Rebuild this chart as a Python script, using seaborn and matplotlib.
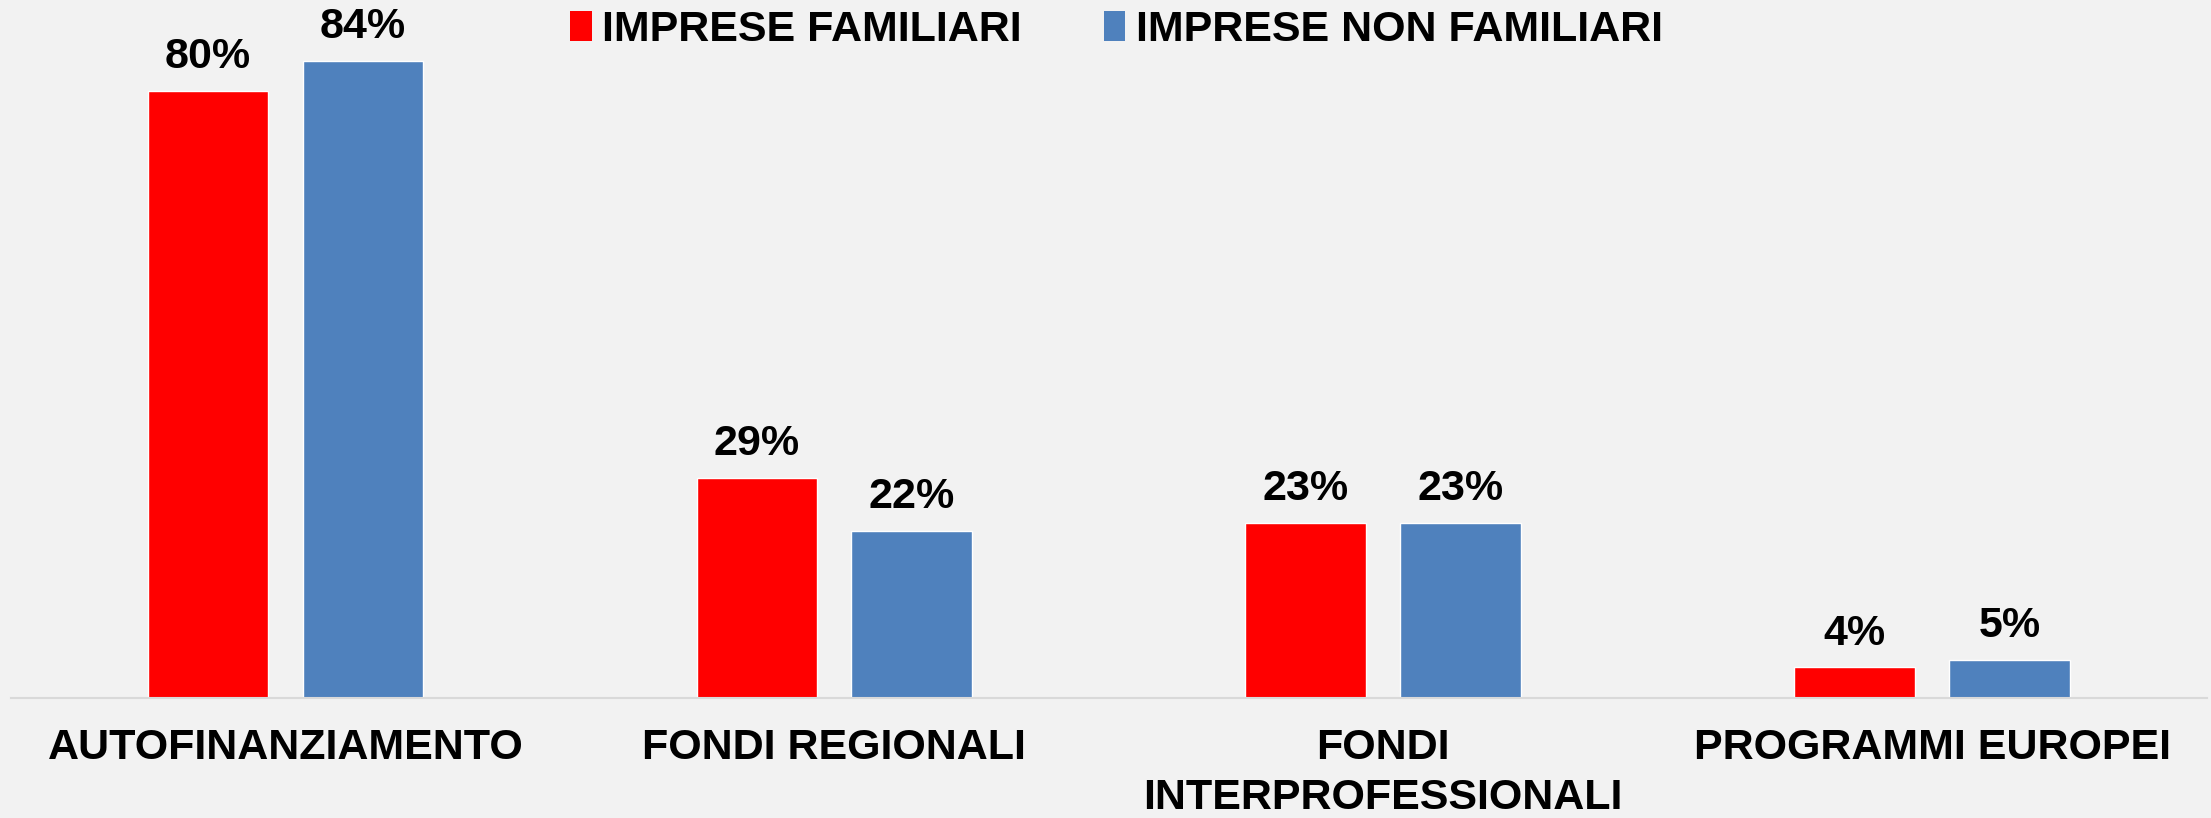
import seaborn as sns
import pandas as pd
import matplotlib.pyplot as plt
from matplotlib.patches import Patch

# valori (percentuali)
categorie = ['AUTOFINANZIAMENTO', 'FONDI REGIONALI', 'FONDI\nINTERPROFESSIONALI', 'PROGRAMMI EUROPEI']
familiari = [80, 29, 23, 4]
non_familiari = [84, 22, 23, 5]
serie = ['IMPRESE FAMILIARI', 'IMPRESE NON FAMILIARI']
colori = ['#ff0000', '#4f81bd']

df = pd.DataFrame({
    'categoria': categorie * 2,
    'valore': familiari + non_familiari,
    'tipo': [serie[0]] * len(categorie) + [serie[1]] * len(categorie),
})

sns.set_style('white')
plt.rcParams['font.family'] = ['Liberation Sans', 'DejaVu Sans']
plt.rcParams['font.weight'] = 'bold'
plt.rcParams['text.color'] = 'black'
plt.rcParams['xtick.color'] = 'black'

bg = '#f2f2f2'
fig = plt.figure(figsize=(22.11, 8.18), dpi=100, facecolor=bg)
ax = fig.add_axes([0.005, 0.147, 0.993, 0.853])
ax.set_facecolor(bg)

sns.barplot(df, x='categoria', y='valore', hue='tipo',
            palette=colori, width=0.564, gap=0.22,
            saturation=1, legend=False, ax=ax)

for c in ax.containers:
    ax.bar_label(c, fmt='{:.0f}%', padding=10, fontsize=31,
                 fontweight='bold', color='black')

ax.set_ylim(0, 92)
ax.set_xlim(-0.5, 3.5)
ax.set_xlabel('')
ax.set_ylabel('')
ax.set_yticks([])
ax.tick_params(axis='x', length=0, pad=22, labelsize=31, labelcolor='black')
for lbl in ax.get_xticklabels():
    lbl.set_fontweight('bold')
    lbl.set_linespacing(1.3)
for s in ['top', 'left', 'right']:
    ax.spines[s].set_visible(False)
ax.spines['bottom'].set_color('#d9d9d9')
ax.spines['bottom'].set_linewidth(1.5)

# legenda in alto al centro
handles = [Patch(facecolor=c, edgecolor='none') for c in colori]
fig.legend(handles, serie, loc='upper center', bbox_to_anchor=(0.505, 1.035),
           ncol=2, frameon=False, handlelength=0.5,
           handleheight=0.7, handletextpad=0.25, columnspacing=1.9,
           labelcolor='black', prop={'weight': 'bold', 'size': 31})

fig.savefig('out.png', dpi=100, facecolor=bg)
